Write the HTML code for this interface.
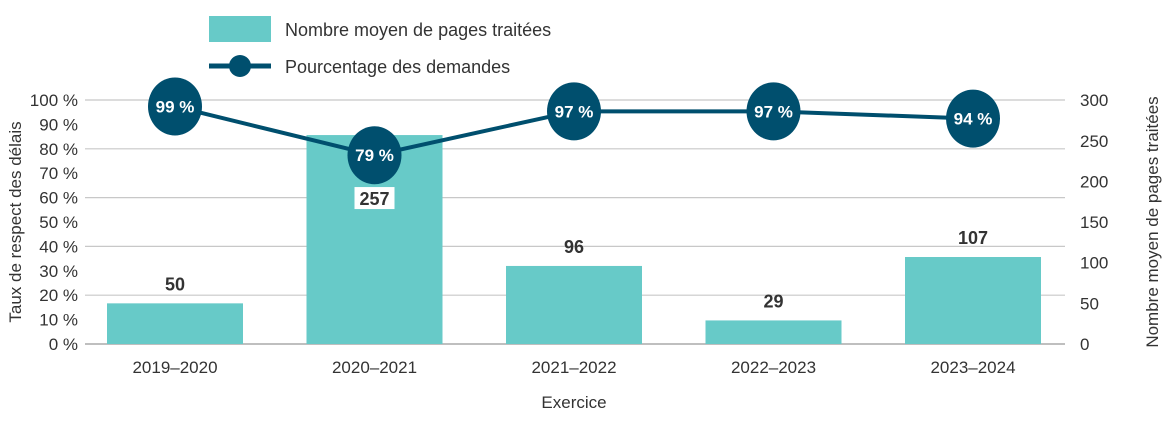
<!DOCTYPE html>
<html><head><meta charset="utf-8"><style>
body{margin:0;background:#fff;font-family:"Liberation Sans",sans-serif}
</style></head><body>
<svg id="c" width="1170" height="429" xmlns="http://www.w3.org/2000/svg" font-family="Liberation Sans, sans-serif">
<g>
<rect x="209" y="16" width="62" height="26" fill="#67cac8"/>
<text x="285" y="36" font-size="18" fill="#333">Nombre moyen de pages traitées</text>
<line x1="209" y1="66" x2="271" y2="66" stroke="#004f6e" stroke-width="5"/>
<circle cx="240" cy="66" r="11" fill="#004f6e"/>
<text x="285" y="73" font-size="18" fill="#333">Pourcentage des demandes</text>
</g>
<g id="grid"></g><g id="bars"></g><g id="line"></g>
<text transform="translate(21,222) rotate(-90)" text-anchor="middle" font-size="17" fill="#333">Taux de respect des délais</text>
<text transform="translate(1158,222) rotate(-90)" text-anchor="middle" font-size="17" fill="#333">Nombre moyen de pages traitées</text>
<text x="574" y="408" text-anchor="middle" font-size="17" fill="#333">Exercice</text>
</svg>
<script>
const categories=["2019–2020","2020–2021","2021–2022","2022–2023","2023–2024"];
const pages=[50,257,96,29,107];
const percents=[99,79,97,97,94];
const leftTicks=[0,10,20,30,40,50,60,70,80,90,100];
const rightTicks=[0,50,100,150,200,250,300];
const NS="http://www.w3.org/2000/svg";
const y0=344;
const yL=v=>y0-v*2.44;
const yR=v=>y0-v*0.813;
const xC=i=>175+i*199.5;
function mk(tag,attrs,parent,txt){const e=document.createElementNS(NS,tag);for(const k in attrs)e.setAttribute(k,attrs[k]);if(txt!==undefined)e.textContent=txt;document.getElementById(parent)?document.getElementById(parent).appendChild(e):parent.appendChild(e);return e;}
leftTicks.forEach(t=>{
 if(t%20===0&&t>0){const g=mk('line',{x1:85,x2:1065,y1:yL(t),y2:yL(t),stroke:'#c8c8c8','stroke-width':1.2},'grid');
 
 }
 const l=mk('text',{x:78,y:yL(t)+6,'text-anchor':'end','font-size':17,fill:'#333'},'grid',t+' %');
 
 
});
rightTicks.forEach(t=>{
 const l=mk('text',{x:1080,y:yR(t)+6,'font-size':17,fill:'#333'},'grid',String(t));
 
 
});
const ax=mk('line',{x1:85,x2:1065,y1:y0,y2:y0,stroke:'#999','stroke-width':1.2},'grid');


categories.forEach((c,i)=>{
 const b=mk('rect',{x:xC(i)-68,y:yR(pages[i]),width:136,height:y0-yR(pages[i]),fill:'#67cac8'},'bars');
 
 
 const ly=yR(pages[i])-13;
 const inside=pages[i]>200;
 if(inside){const bg=mk('rect',{x:xC(i)-20,y:yR(pages[i])+52,width:40,height:22,fill:'#fff'},'bars');
 
 }
 const v=mk('text',{x:xC(i),y:inside?yR(pages[i])+70:ly,'text-anchor':'middle','font-size':18,'font-weight':'bold',fill:'#333'},'bars',String(pages[i]));
 
 
 const t=mk('text',{x:xC(i),y:373,'text-anchor':'middle','font-size':17,fill:'#333'},'bars',c);
 
 
});
const pl=mk('polyline',{points:percents.map((p,i)=>xC(i)+','+(yL(p)+4)).join(' '),fill:'none',stroke:'#004f6e','stroke-width':4},'line');


percents.forEach((p,i)=>{
 const e=mk('ellipse',{cx:xC(i),cy:yL(p)+4,rx:27,ry:29,fill:'#004f6e'},'line');
 
 
 const t=mk('text',{x:xC(i),y:yL(p)+10,'text-anchor':'middle','font-size':17,'font-weight':'bold',fill:'#fff'},'line',p+' %');
 
 
});
</script>
</body></html>
